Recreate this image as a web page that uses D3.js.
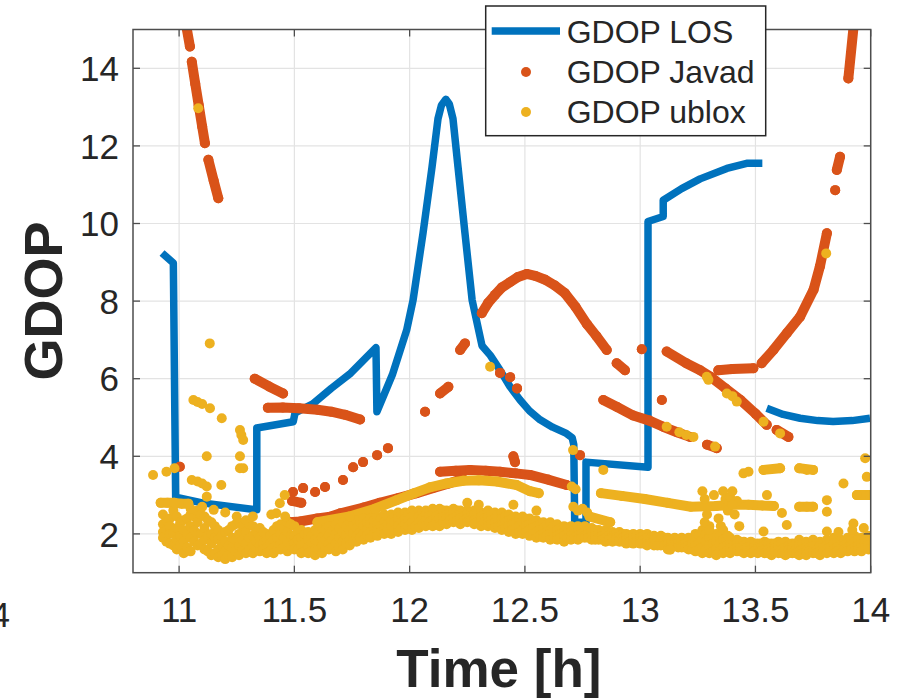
<!DOCTYPE html>
<meta charset="utf-8">
<style>
  body { margin: 0; background: #fff; }
  text { font-family: "Liberation Sans", Arial, sans-serif; fill: #262626; }
</style>
<script src="https://cdn.jsdelivr.net/npm/d3@7"></script>
<div id="chart"></div>
<script>

var xTicks = [11, 11.5, 12, 12.5, 13, 13.5, 14]
var yTicks = [2, 4, 6, 8, 10, 12, 14]
var legendNames = ["GDOP LOS", "GDOP Javad", "GDOP ublox"]

// GDOP LOS (line, null = gap)
var losData = [
  [10.926,9.24],[10.975,8.98],[10.985,2.95],[11.1,2.8],[11.337,2.62],[11.337,4.73],[11.495,4.89],
  [11.503,5.12],[11.58,5.35],[11.66,5.75],[11.74,6.12],[11.854,6.8],[11.858,5.15],[11.925,6.1],
  [11.987,7.25],[12.015,8.03],[12.058,9.75],[12.097,11.45],[12.123,12.7],[12.138,13.05],[12.157,13.2],
  [12.172,13.08],[12.188,12.7],[12.21,11.45],[12.24,9.75],[12.271,8.03],[12.314,6.85],[12.35,6.6],
  [12.392,6.22],[12.435,5.8],[12.479,5.45],[12.52,5.17],[12.566,4.94],[12.62,4.75],[12.68,4.59],
  [12.705,4.48],[12.712,4.3],[12.716,2.3],[12.765,2.3],[12.765,3.85],[13.034,3.72],[13.034,10.05],
  [13.1,10.18],[13.1,10.6],[13.18,10.9],[13.26,11.15],[13.376,11.42],[13.462,11.55],[13.53,11.55],
  null,
  [13.549,5.24],[13.62,5.08],[13.694,4.98],[13.77,4.92],[13.837,4.9],[13.92,4.92],[13.997,4.98]
]

// GDOP Javad (runs of dense dots, null = gap)
var javadData = [
  [11.033,15.03],[11.047,14.56], null,
  [11.055,14.17],[11.07,13.6],[11.085,13.05],[11.1,12.5],[11.112,12.07], null,
  [11.127,11.64],[11.15,11.1],[11.17,10.65], null,
  [11.003,3.73], null,
  [11.328,6.0],[11.39,5.8],[11.451,5.62], null,
  [11.385,5.25],[11.45,5.26],[11.52,5.24],[11.6,5.2],[11.66,5.15],[11.72,5.07],[11.785,4.95], null,
  [11.494,3.08], null, [11.538,3.18], null, [11.59,3.08], null, [11.633,3.21], null,
  [11.711,3.39], null, [11.755,3.72], null, [11.798,3.85], null, [11.859,4.03], null,
  [11.906,4.21], null, [12.067,5.15], null,
  [12.132,5.62],[12.168,5.79], null,
  [12.219,6.74],[12.24,6.91], null,
  [12.313,7.69],[12.34,7.95],[12.37,8.16],[12.4,8.35],[12.436,8.49],[12.47,8.62],[12.508,8.7],
  [12.545,8.65],[12.588,8.55],[12.63,8.4],[12.674,8.2],[12.72,7.85],[12.77,7.4],[12.81,7.1],[12.855,6.74], null,
  [12.898,6.4],[12.934,6.22], null,
  [13.007,6.76], null,
  [13.115,6.7],[13.2,6.4],[13.26,6.22],[13.305,6.05],[13.37,5.75],[13.435,5.45],[13.5,5.1],[13.549,4.81], null,
  [13.592,4.68],[13.643,4.5], null,
  [13.094,5.45], null,
  [12.84,5.45],[12.9,5.27],[12.97,5.05],[13.04,4.92],[13.1,4.76],[13.16,4.62],[13.216,4.5], null,
  [13.29,4.3],[13.332,4.21], null,
  [13.339,6.22],[13.4,6.25],[13.491,6.27], null,
  [13.527,6.4],[13.578,6.74],[13.637,7.18],[13.694,7.6],[13.752,8.29],[13.78,8.9],[13.81,9.75], null,
  [13.846,10.86], null,
  [13.853,11.38],[13.867,11.72], null,
  [13.903,13.74],[13.925,15.03], null,
  [12.392,6.15], null, [12.436,6.04], null, [12.466,5.75], null,
  [11.48,2.3],[11.525,2.32],[11.6,2.4],[11.655,2.44],[11.7,2.53],[11.8,2.68],[11.87,2.8],[11.95,2.92],
  [12.03,3.05],[12.1,3.18],[12.17,3.3],[12.23,3.42], null,
  [11.49,2.85],[11.53,2.8], null,
  [12.132,3.6],[12.2,3.63],[12.262,3.65],[12.33,3.63],[12.392,3.6],[12.46,3.56],[12.522,3.52],[12.6,3.4],[12.681,3.26], null,
  [12.45,4.0],[12.457,3.85], null,
  [12.739,4.03]
]

// GDOP ublox, dense lower band: [time, GDOP readings at that time]
var ubloxBand = [
  [10.93,2.5,2.25,2.05,1.9],[10.945,2.35,2.1,1.8],[10.96,2.4,2.2,2.0,1.75],[10.975,2.6,2.0,1.7],
  [10.99,2.45,2.15,1.85,1.6],[11.005,2.3,1.95,1.7],[11.02,2.35,2.1,1.8,1.5],[11.035,2.4,2.0,1.65],
  [11.05,2.5,2.2,1.9,1.55],[11.065,2.45,2.1,1.8],[11.08,2.6,2.3,2.0,1.7],[11.095,2.5,2.0,1.75],
  [11.11,2.45,2.15,1.85,1.6],[11.125,2.35,1.95,1.55],[11.14,2.3,2.0,1.75,1.45],[11.155,2.2,1.9,1.5],
  [11.17,2.1,1.85,1.6,1.4],[11.185,1.95,1.7,1.45],[11.2,2.05,1.8,1.55,1.35],[11.215,2.1,1.7,1.45],
  [11.23,2.2,1.9,1.65,1.4],[11.245,2.25,1.85,1.55],[11.26,2.3,2.0,1.7,1.45],[11.275,2.2,1.85,1.6],
  [11.29,2.35,2.05,1.75,1.5],[11.305,2.25,1.9,1.6],[11.32,2.2,1.95,1.7,1.5],[11.335,2.05,1.8,1.6],
  [11.35,2.15,1.9,1.7,1.55],[11.365,2.05,1.75,1.6],[11.38,2.0,1.85,1.65,1.5],[11.395,1.95,1.75,1.55],
  [11.41,2.1,1.85,1.65,1.5],[11.425,2.2,1.9,1.6],[11.44,2.25,2.0,1.75,1.6],[11.455,2.15,1.9,1.65],
  [11.47,2.3,2.05,1.8,1.55],[11.485,2.25,1.95,1.7],[11.5,2.2,1.95,1.75,1.6],[11.515,2.05,1.85,1.6],
  [11.53,2.1,1.9,1.7,1.5],[11.545,2.0,1.75,1.55],[11.56,2.05,1.85,1.65,1.5],[11.575,1.95,1.75,1.55],
  [11.59,2.1,1.85,1.6,1.45],[11.605,2.05,1.8,1.6],[11.62,2.15,1.9,1.7,1.5],[11.635,2.1,1.85,1.6],
  [11.65,2.2,1.95,1.75,1.6],[11.665,2.1,1.85,1.65],[11.68,2.25,2.0,1.75,1.55],[11.695,2.15,1.9,1.65],
  [11.71,2.3,2.05,1.8,1.6],[11.725,2.2,1.95,1.75],[11.74,2.3,2.1,1.85,1.7],[11.755,2.25,2.0,1.8],
  [11.77,2.35,2.15,1.95,1.8],[11.785,2.3,2.05,1.9],[11.8,2.4,2.2,2.0,1.85],[11.815,2.3,2.1,1.95],
  [11.83,2.4,2.25,2.05,1.9],[11.845,2.35,2.15,2.0],[11.86,2.45,2.25,2.1,1.95],[11.875,2.4,2.2,2.05],
  [11.89,2.5,2.3,2.15,2.0],[11.905,2.45,2.25,2.1],[11.92,2.5,2.35,2.2,2.0],[11.935,2.45,2.3,2.1],
  [11.95,2.55,2.4,2.2,2.05],[11.965,2.5,2.3,2.15],[11.98,2.55,2.4,2.25,2.1],[11.995,2.5,2.35,2.2],
  [12.01,2.6,2.45,2.3,2.1],[12.025,2.55,2.4,2.2],[12.04,2.6,2.45,2.3,2.15],[12.055,2.55,2.4,2.25],
  [12.07,2.6,2.5,2.35,2.2],[12.085,2.55,2.45,2.3],[12.1,2.65,2.5,2.35,2.2],[12.115,2.6,2.45,2.3],
  [12.13,2.65,2.5,2.4,2.2],[12.145,2.6,2.45,2.3],[12.16,2.6,2.5,2.4,2.25],[12.175,2.55,2.45,2.35],
  [12.19,2.65,2.55,2.4,2.3],[12.205,2.6,2.45,2.35],[12.22,2.6,2.5,2.4,2.25],[12.235,2.55,2.45,2.35],
  [12.25,2.6,2.5,2.4,2.3],[12.265,2.55,2.45,2.35],[12.28,2.6,2.5,2.35,2.25],[12.295,2.55,2.4,2.3],
  [12.31,2.55,2.45,2.35,2.2],[12.325,2.5,2.4,2.3],[12.34,2.6,2.45,2.3,2.2],[12.355,2.5,2.35,2.25],
  [12.37,2.55,2.4,2.3,2.15],[12.385,2.5,2.35,2.2],[12.4,2.55,2.4,2.25,2.1],[12.415,2.45,2.3,2.15],
  [12.43,2.5,2.35,2.2,2.05],[12.445,2.4,2.25,2.1],[12.46,2.45,2.3,2.15,2.0],[12.475,2.4,2.2,2.05],
  [12.49,2.45,2.3,2.1,2.0],[12.505,2.35,2.2,2.05],[12.52,2.4,2.25,2.1,1.95],[12.535,2.3,2.15,2.0],
  [12.55,2.35,2.2,2.05,1.9],[12.565,2.25,2.1,1.95],[12.58,2.3,2.15,2.0,1.9],[12.595,2.25,2.05,1.95],
  [12.61,2.3,2.1,2.0,1.85],[12.625,2.2,2.05,1.9],[12.64,2.25,2.1,1.95,1.85],[12.655,2.15,2.0,1.9],
  [12.67,2.2,2.05,1.95,1.8],[12.685,2.15,2.0,1.9],[12.7,2.2,2.05,1.95,1.85],[12.715,2.15,2.0,1.9],
  [12.73,2.2,2.05,1.95,1.85],[12.745,2.15,2.0,1.9],[12.76,2.2,2.05,1.95,1.9],[12.775,2.1,2.0,1.9],
  [12.79,2.15,2.05,1.95,1.85],[12.805,2.1,1.95,1.85],[12.82,2.1,2.0,1.9,1.85],[12.835,2.05,1.95,1.85],
  [12.85,2.1,2.0,1.9,1.8],[12.865,2.05,1.95,1.85],[12.88,2.05,1.95,1.9,1.8],[12.895,2.0,1.9,1.85],
  [12.91,2.05,1.95,1.85,1.8],[12.925,2.0,1.9,1.8],[12.94,2.0,1.95,1.85,1.75],[12.955,1.95,1.9,1.8],
  [12.97,2.0,1.9,1.85,1.75],[12.985,1.95,1.85,1.8],[13.0,2.0,1.9,1.8,1.75],[13.015,1.95,1.85,1.75],
  [13.03,2.0,1.9,1.8,1.7],[13.045,1.9,1.8,1.75],[13.06,1.95,1.85,1.8,1.7],[13.075,1.9,1.8,1.7],
  [13.09,1.95,1.85,1.75,1.7],[13.105,1.9,1.8,1.7],[13.12,1.9,1.85,1.75,1.6],[13.135,1.85,1.75,1.65],
  [13.15,1.9,1.8,1.75,1.7],[13.165,1.85,1.75,1.65],[13.18,1.9,1.8,1.7,1.65],[13.195,1.85,1.75,1.65],
  [13.21,1.9,1.8,1.7,1.6],[13.225,1.85,1.75,1.6],[13.24,2.0,1.8,1.7,1.55],[13.255,1.95,1.75,1.6],
  [13.27,2.1,1.85,1.65,1.5],[13.285,2.0,1.8,1.6],[13.3,2.2,1.9,1.7,1.5],[13.315,1.95,1.75,1.55],
  [13.33,2.0,1.8,1.6,1.45],[13.345,1.95,1.75,1.55],[13.36,2.1,1.85,1.65,1.5],[13.375,1.85,1.7,1.55],
  [13.39,1.9,1.8,1.65,1.5],[13.405,1.8,1.7,1.6],[13.42,1.85,1.75,1.65,1.55],[13.435,1.8,1.65,1.55],
  [13.45,1.8,1.7,1.6,1.5],[13.465,1.75,1.65,1.55],[13.48,1.8,1.7,1.6,1.5],[13.495,1.75,1.65,1.55],
  [13.51,1.75,1.65,1.6,1.5],[13.525,1.75,1.65,1.55],[13.54,1.8,1.7,1.6,1.5],[13.555,1.75,1.6,1.5],
  [13.57,1.75,1.65,1.55,1.45],[13.585,1.75,1.65,1.55],[13.6,1.8,1.7,1.6,1.5],[13.615,1.75,1.6,1.5],
  [13.63,1.8,1.65,1.55,1.45],[13.645,1.7,1.6,1.5],[13.66,1.75,1.65,1.6,1.5],[13.675,1.75,1.6,1.5],
  [13.69,1.85,1.7,1.55,1.45],[13.705,1.75,1.6,1.5],[13.72,1.8,1.65,1.55,1.45],[13.735,1.75,1.65,1.55],
  [13.75,1.85,1.7,1.6,1.5],[13.765,1.75,1.6,1.5],[13.78,1.8,1.7,1.55,1.45],[13.795,1.75,1.65,1.55],
  [13.81,1.85,1.7,1.6,1.5],[13.825,1.8,1.65,1.55],[13.84,1.9,1.75,1.6,1.5],[13.855,1.8,1.65,1.55],
  [13.87,1.85,1.7,1.6,1.5],[13.885,1.8,1.7,1.6],[13.9,1.9,1.75,1.65,1.55],[13.915,1.85,1.7,1.6],
  [13.93,1.95,1.8,1.65,1.55],[13.945,1.85,1.7,1.6],[13.96,1.9,1.75,1.65,1.55],[13.975,1.85,1.75,1.65],
  [13.99,1.95,1.8,1.7,1.6]
]

// GDOP ublox, dense runs (null = gap)
var ubloxRuns = [
  [10.92,2.8],[10.95,2.8],[10.98,2.8],[11.01,2.78],[11.04,2.78], null,
  [11.6,2.3],[11.74,2.45],[11.85,2.65],[11.944,2.87],[12.02,3.05],[12.088,3.2],[12.16,3.3],[12.233,3.37],
  [12.3,3.38],[12.378,3.35],[12.464,3.26],[12.522,3.1],[12.56,3.05], null,
  [12.83,3.05],[12.92,2.98],[13.02,2.9],[13.12,2.8],[13.22,2.7],[13.33,2.72],[13.4,2.75],[13.47,2.75],[13.53,2.73],[13.58,2.72], null,
  [12.78,2.45],[12.87,2.3], null,
  [13.535,3.65],[13.607,3.69], null,
  [13.69,3.69],[13.75,3.65], null,
  [13.69,2.7],[13.75,2.7], null,
  [13.94,3.0],[13.997,3.0]
]

// GDOP ublox, scattered single points
var ubloxDots = [
  [11.083,12.97],[11.133,6.91],[11.062,5.45],[11.08,5.4],[11.1,5.35],[11.134,5.24],[11.185,4.98],
  [11.264,4.68],[11.27,4.55],[11.278,4.42],[11.12,4.0],[11.264,4.0],[11.264,3.69],[11.278,3.69],
  [10.887,3.52],[10.945,3.6],[10.98,3.69],[11.055,3.39],[11.08,3.35],[11.1,3.3],[11.12,3.22],
  [11.183,3.26],[11.12,2.96],[11.458,3.0],[11.437,2.79],[11.422,2.53],[11.05,2.65],[11.1,2.7],
  [11.15,2.62],[11.2,2.55],[11.25,2.45],[11.4,2.5],[11.46,2.45],[11.32,2.45],
  [12.349,6.31],[12.703,3.22],[12.72,3.15],[12.709,4.16],[12.84,3.65],[12.71,2.7],[12.73,2.6],
  [12.75,2.65],[12.77,2.55],[12.3,2.75],[12.25,2.8],[12.45,2.75],[12.55,2.6],
  [13.27,3.1],[13.28,2.9],[13.29,2.5],[13.28,2.3],[13.3,2.1],[13.32,3.0],[13.34,2.4],[13.35,2.2],
  [13.36,3.1],[13.37,2.9],[13.38,2.6],[13.39,2.95],[13.4,3.1],[13.42,2.85],[13.41,2.5],[13.43,2.2],
  [13.38,1.95],[13.448,3.56],[13.47,3.6],[13.723,3.65],[13.882,3.3],[13.976,3.95],[13.983,3.47],
  [13.55,3.0],[13.81,2.87],[13.723,2.7],[13.81,2.57],[13.615,2.54],[13.636,2.23],[13.535,2.06],
  [13.925,2.27],[13.81,2.06],[13.13,1.59],[13.86,2.05],[13.92,2.1],[13.97,2.15],
  [13.296,5.97],[13.376,5.62],[13.4,5.55],[13.419,5.41],[13.535,4.89],[13.607,4.59],[13.325,4.25],
  [13.115,4.76],[13.17,4.62],[13.2,4.55],[13.231,4.5],[13.289,6.05],[13.807,9.23]
]

var w = 904, h = 699
var margin = {top: 29.5, right: 33.3, bottom: 126.3, left: 133}
var dotR = 5

var svg = d3.select("#chart")
  .append("svg")
    .attr("width", w)
    .attr("height", h)

var xScale = d3.scaleLinear().domain([10.8, 14]).range([margin.left, w - margin.right])
var yScale = d3.scaleLinear().domain([1, 15]).range([h - margin.bottom, margin.top])

var blue = "#0072BD", orange = "#D95319", yellow = "#EDB120"

svg.append("clipPath").attr("id", "clip")
  .append("rect")
    .attr("x", margin.left).attr("y", margin.top)
    .attr("width", w - margin.left - margin.right)
    .attr("height", h - margin.top - margin.bottom)

// grid
svg.append("g").selectAll("line").data(xTicks).enter().append("line")
  .attr("x1", d => xScale(d)).attr("x2", d => xScale(d))
  .attr("y1", yScale(1)).attr("y2", yScale(15))
  .attr("stroke", "#e3e3e3").attr("stroke-width", 1.2)
svg.append("g").selectAll("line").data(yTicks).enter().append("line")
  .attr("y1", d => yScale(d)).attr("y2", d => yScale(d))
  .attr("x1", xScale(10.8)).attr("x2", xScale(14))
  .attr("stroke", "#e3e3e3").attr("stroke-width", 1.2)

var plot = svg.append("g").attr("clip-path", "url(#clip)")

var line = d3.line()
  .defined(d => d != null)
  .x(d => xScale(d[0]))
  .y(d => yScale(d[1]))

// LOS
plot.append("path")
  .datum(losData)
  .attr("d", line)
  .attr("fill", "none")
  .attr("stroke", blue)
  .attr("stroke-width", 7.5)
  .attr("stroke-linejoin", "round")

// Javad
plot.append("path")
  .datum(javadData)
  .attr("d", line)
  .attr("fill", "none")
  .attr("stroke", orange)
  .attr("stroke-width", dotR * 2)
  .attr("stroke-linecap", "round")
  .attr("stroke-linejoin", "round")
plot.append("g").selectAll("circle")
  .data(javadData.filter(d => d != null))
  .enter().append("circle")
    .attr("cx", d => xScale(d[0]))
    .attr("cy", d => yScale(d[1]))
    .attr("r", dotR)
    .attr("fill", orange)

// ublox
var bandPts = []
ubloxBand.forEach(function(r) {
  for (var i = 1; i < r.length; i++) bandPts.push([r[0], r[i]])
})
plot.append("path")
  .datum(ubloxRuns)
  .attr("d", line)
  .attr("fill", "none")
  .attr("stroke", yellow)
  .attr("stroke-width", dotR * 2)
  .attr("stroke-linecap", "round")
  .attr("stroke-linejoin", "round")
plot.append("g").selectAll("circle")
  .data(bandPts.concat(ubloxDots, ubloxRuns.filter(d => d != null)))
  .enter().append("circle")
    .attr("cx", d => xScale(d[0]))
    .attr("cy", d => yScale(d[1]))
    .attr("r", dotR)
    .attr("fill", yellow)

// axes box and inward ticks
var x0 = xScale(10.8), x1 = xScale(14), y0 = yScale(1), y1 = yScale(15)
var tl = 7
var ticks = svg.append("g").attr("stroke", "#4d4d4d").attr("stroke-width", 1.3)
xTicks.forEach(function(v) {
  ticks.append("line").attr("x1", xScale(v)).attr("x2", xScale(v)).attr("y1", y0).attr("y2", y0 - tl)
  ticks.append("line").attr("x1", xScale(v)).attr("x2", xScale(v)).attr("y1", y1).attr("y2", y1 + tl)
})
yTicks.forEach(function(v) {
  ticks.append("line").attr("y1", yScale(v)).attr("y2", yScale(v)).attr("x1", x0).attr("x2", x0 + tl)
  ticks.append("line").attr("y1", yScale(v)).attr("y2", yScale(v)).attr("x1", x1).attr("x2", x1 - tl)
})
svg.append("rect")
  .attr("x", x0).attr("y", y1)
  .attr("width", x1 - x0).attr("height", y0 - y1)
  .attr("fill", "none")
  .attr("stroke", "#4d4d4d")
  .attr("stroke-width", 1.5)

// tick labels
svg.append("g").selectAll("text").data(xTicks).enter().append("text")
  .attr("x", d => xScale(d))
  .attr("y", y0 + 49.5)
  .attr("text-anchor", "middle")
  .attr("font-size", "35px")
  .text(d => d)
svg.append("g").selectAll("text").data(yTicks).enter().append("text")
  .attr("x", x0 - 14)
  .attr("y", d => yScale(d))
  .attr("dy", "0.36em")
  .attr("text-anchor", "end")
  .attr("font-size", "35px")
  .text(d => d)

// tick label of the neighbouring panel, cut by the left edge as in the source
svg.append("text")
  .attr("x", 10).attr("y", 627)
  .attr("text-anchor", "end")
  .attr("font-size", "35px")
  .text("4")

// axis titles
svg.append("text")
  .attr("x", (x0 + x1) / 2 - 3)
  .attr("y", 687)
  .attr("text-anchor", "middle")
  .attr("font-size", "53px")
  .attr("font-weight", "bold")
  .text("Time [h]")
svg.append("text")
  .attr("transform", "translate(62," + ((y0 + y1) / 2) + ") rotate(-90)")
  .attr("text-anchor", "middle")
  .attr("font-size", "54px")
  .attr("font-weight", "bold")
  .text("GDOP")

// legend
var lg = svg.append("g")
lg.append("rect")
  .attr("x", 485.7).attr("y", 6)
  .attr("width", 280).attr("height", 129.7)
  .attr("fill", "#fff")
  .attr("stroke", "#262626")
  .attr("stroke-width", 1.5)
lg.append("line")
  .attr("x1", 491.7).attr("x2", 560).attr("y1", 31).attr("y2", 31)
  .attr("stroke", blue).attr("stroke-width", 7.5)
lg.append("circle").attr("cx", 526).attr("cy", 72).attr("r", 5).attr("fill", orange)
lg.append("circle").attr("cx", 526).attr("cy", 112).attr("r", 5).attr("fill", yellow)
lg.selectAll("text.lt").data(legendNames).enter().append("text")
  .attr("class", "lt")
  .attr("x", 566.7)
  .attr("y", (d, i) => 43.3 + i * 40)
  .attr("font-size", "32px")
  .text(d => d)

</script>
